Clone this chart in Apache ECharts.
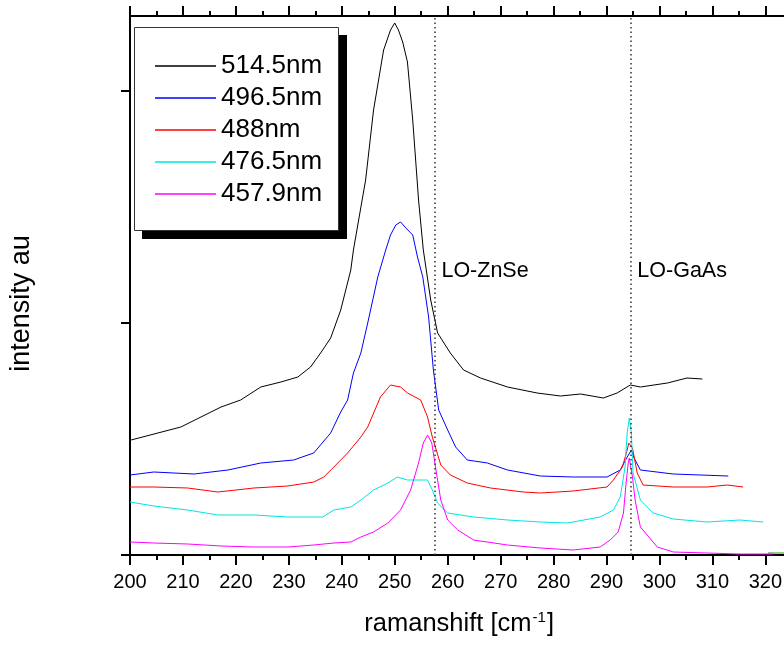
<!DOCTYPE html>
<html>
<head>
<meta charset="utf-8">
<script src="https://cdn.jsdelivr.net/npm/echarts@6/dist/echarts.min.js"></script>
<style>
html, body { margin: 0; padding: 0; overflow: hidden; background: #fff; }
#raman { width: 830px; height: 645px; }
</style>
</head>
<body>
<div id="raman"></div>
<script>
/* 拉曼光谱 - 读图数据 (ramanshift cm-1, intensity au) */
var shift514 = [200.2, 209.6, 217.2, 220.9, 224.7, 228.5, 231.7, 234.1, 236.0, 237.9, 239.8, 241.7, 242.2, 244.5, 246.0, 247.9, 249.2, 250.0, 250.7, 251.5, 252.4, 253.4, 254.5, 255.4, 256.8, 258.1, 260.5, 263.0, 266.2, 271.3, 276.9, 281.3, 285.1, 289.4, 292.0, 294.5, 296.4, 301.5, 305.2, 308.1];
var int514 = [115, 128, 148, 155, 168, 173, 178, 188, 202, 217, 245, 285, 305, 375, 445, 505, 525, 532, 525, 513, 493, 435, 355, 305, 255, 222, 202, 185, 177, 168, 162, 159, 161, 157, 162, 170, 168, 172, 177, 176];

var shift496 = [200.0, 204.5, 212.1, 218.5, 224.7, 230.9, 234.7, 237.9, 239.8, 241.1, 242.2, 243.6, 244.9, 246.8, 248.3, 249.2, 250.2, 251.1, 252.1, 253.4, 254.3, 255.3, 256.4, 257.3, 258.3, 260.0, 261.5, 263.7, 267.5, 271.3, 277.5, 283.7, 290.1, 292.6, 293.9, 294.7, 295.2, 296.4, 302.6, 313.0];
var int496 = [80, 83, 81, 85, 92, 95, 102, 122, 143, 155, 182, 202, 232, 278, 305, 320, 330, 333, 327, 320, 298, 278, 238, 185, 145, 125, 108, 95, 92, 85, 79, 78, 78, 85, 98, 105, 97, 85, 81, 79];

var shift488 = [200.0, 204.5, 210.9, 216.6, 223.4, 229.8, 234.7, 236.6, 238.5, 241.1, 243.6, 244.9, 247.3, 249.2, 251.1, 252.4, 254.9, 256.2, 257.1, 258.7, 260.5, 263.7, 268.1, 274.3, 277.5, 283.7, 290.1, 291.3, 293.0, 293.9, 294.2, 294.9, 295.8, 296.9, 302.6, 309.0, 312.8, 315.8];
var int488 = [68, 68, 67, 63, 67, 69, 73, 78, 88, 102, 118, 128, 158, 170, 168, 162, 155, 138, 118, 90, 80, 72, 67, 63, 62, 64, 68, 75, 88, 105, 112, 107, 82, 70, 68, 68, 70, 68];

var shift476 = [200.0, 204.5, 210.9, 216.6, 223.4, 229.8, 233.6, 236.4, 238.5, 241.7, 243.6, 246.0, 248.7, 250.5, 252.4, 256.2, 257.1, 258.1, 260.0, 264.9, 271.3, 277.5, 282.6, 288.8, 291.3, 292.6, 293.5, 293.9, 294.3, 294.7, 295.0, 296.4, 298.8, 302.6, 309.0, 315.2, 319.6];
var int476 = [53, 49, 45, 40, 40, 38, 38, 38, 45, 48, 55, 65, 72, 78, 75, 75, 65, 52, 42, 38, 35, 33, 32, 38, 45, 58, 88, 122, 137, 122, 82, 55, 42, 36, 33, 35, 33];

var shift457 = [200.0, 204.5, 210.9, 217.2, 223.4, 229.8, 234.7, 238.5, 241.7, 243.6, 246.0, 248.7, 251.1, 253.0, 254.5, 255.4, 256.2, 257.0, 257.7, 258.7, 260.0, 261.9, 264.9, 271.3, 277.5, 283.7, 288.8, 290.7, 292.2, 293.2, 293.7, 294.1, 294.3, 294.9, 295.4, 296.4, 299.6, 302.6, 309.0, 315.2, 321.5];
var int457 = [13, 12, 11, 9, 8, 8, 10, 12, 13, 18, 23, 32, 45, 65, 92, 112, 120, 112, 88, 55, 35, 25, 15, 10, 7, 5, 8, 15, 23, 42, 72, 92, 97, 78, 55, 28, 8, 3, 2, 1, 1];

/* 右下角的绿色残线 */
var shiftExtra = [320.5, 322.0, 324.0, 326.0];
var intExtra = [2, 2, 2, 2];

var seriesNames = ['514.5nm', '496.5nm', '488nm', '476.5nm', '457.9nm'];
var seriesColors = ['#000000', '#0000ff', '#ff0000', '#00e5e5', '#ff00ff'];
var loLines = [257.5, 294.5];
var loNames = ['LO-ZnSe', 'LO-GaAs'];
var xTicks = [200, 330, 10];
var yTicks = [0, 232, 464];

var FONT = 'Liberation Sans, Arial, sans-serif';

function pairs(xs, ys) {
	var out = [];
	for (var i = 0; i < xs.length; i++) {
		out.push([xs[i], ys[i]]);
	}
	return out;
}

var allData = [
	pairs(shift514, int514),
	pairs(shift496, int496),
	pairs(shift488, int488),
	pairs(shift476, int476),
	pairs(shift457, int457)
];

var series = [];
for (var k = 0; k < seriesNames.length; k++) {
	series.push({
		name : seriesNames[k],
		type : 'line',
		symbol : 'none',
		animation : false,
		data : allData[k],
		lineStyle : {
			color : seriesColors[k],
			width : 1
		},
		itemStyle : {
			color : seriesColors[k]
		}
	});
}
series.push({
	name : 'extra',
	type : 'line',
	symbol : 'none',
	animation : false,
	data : pairs(shiftExtra, intExtra),
	lineStyle : {
		color : '#2e8b2e',
		width : 1
	}
});
/* LO 参考线 */
series[0].markLine = {
	silent : true,
	symbol : 'none',
	animation : false,
	label : {
		show : false
	},
	lineStyle : {
		type : [ 1.5, 3 ],
		color : '#333333',
		width : 1.5
	},
	data : loLines.map(function(v) {
		return { xAxis : v };
	})
};

var tickStyle = {
	color : '#000000',
	width : 2
};

var optionRaman = {
	backgroundColor : '#ffffff',
	animation : false,
	grid : {
		left : 129,
		top : 16,
		width : 689.3,
		bottom : 90
	},
	/* 图例外框和阴影 */
	graphic : [ {
		type : 'rect',
		z : 90,
		shape : { x : 142, y : 35, width : 205, height : 204 },
		style : { fill : '#000000' }
	}, {
		type : 'rect',
		z : 91,
		shape : { x : 134.5, y : 27.5, width : 204, height : 203 },
		style : { fill : '#ffffff', stroke : '#333333', lineWidth : 1 }
	} ],
	legend : {
		data : seriesNames,
		orient : 'vertical',
		left : 134,
		top : 30,
		z : 100,
		icon : 'rect',
		itemWidth : 61,
		itemHeight : 1.6,
		itemGap : 6,
		padding : [ 23, 18, 25, 21 ],
		selectedMode : false,
		textStyle : {
			color : '#000000',
			fontFamily : FONT,
			fontSize : 26,
			lineHeight : 26
		}
	},
	xAxis : [ {
		type : 'value',
		position : 'bottom',
		min : xTicks[0],
		max : xTicks[1],
		interval : xTicks[2],
		name : '{t|ramanshift [cm}{s|-1}{t|]}',
		nameLocation : 'middle',
		nameGap : 55,
		nameTextStyle : {
			padding : [ 0, 30, 0, 0 ],
			rich : {
				t : {
					color : '#000000',
					fontFamily : FONT,
					fontSize : 25.5,
					lineHeight : 28
				},
				s : {
					color : '#000000',
					fontFamily : FONT,
					fontSize : 15,
					lineHeight : 28,
					verticalAlign : 'top',
					padding : [ 0, 1, 10, 1 ]
				}
			}
		},
		axisLine : {
			lineStyle : tickStyle
		},
		axisTick : {
			inside : false,
			length : 10,
			lineStyle : tickStyle
		},
		minorTick : {
			show : true,
			splitNumber : 2,
			length : 5,
			lineStyle : tickStyle
		},
		axisLabel : {
			margin : 17,
			color : '#000000',
			fontFamily : FONT,
			fontSize : 20,
			formatter : function(v) {
				return v <= 320 ? String(v) : '';
			}
		},
		splitLine : {
			show : false
		}
	}, {
		type : 'value',
		position : 'top',
		min : xTicks[0],
		max : xTicks[1],
		interval : xTicks[2],
		axisLine : {
			lineStyle : tickStyle
		},
		axisTick : {
			inside : false,
			length : 10,
			lineStyle : tickStyle
		},
		minorTick : {
			show : true,
			splitNumber : 2,
			length : 5,
			lineStyle : tickStyle
		},
		axisLabel : {
			show : false
		},
		splitLine : {
			show : false
		}
	} ],
	yAxis : {
		type : 'value',
		min : 0,
		max : 539,
		interval : 232,
		name : 'intensity au',
		nameLocation : 'middle',
		nameGap : 95,
		nameTextStyle : {
			color : '#000000',
			fontFamily : FONT,
			fontSize : 27,
			padding : [ 0, 36, 0, 0 ]
		},
		axisLine : {
			show : true,
			lineStyle : tickStyle
		},
		axisTick : {
			show : true,
			inside : false,
			length : 9,
			customValues : yTicks,
			lineStyle : tickStyle
		},
		axisLabel : {
			show : false
		},
		splitLine : {
			show : false
		}
	},
	series : series
};

var myChartRaman;
function initMyChartRaman() {
	myChartRaman = echarts.init(document.getElementById('raman'), null, { renderer : 'canvas' });
	myChartRaman.setOption(optionRaman, true);
	/* LO 标注文字 */
	var texts = [];
	for (var i = 0; i < loLines.length; i++) {
		var p = myChartRaman.convertToPixel({ xAxisIndex : 0, yAxisIndex : 0 }, [ loLines[i], 0 ]);
		texts.push({
			type : 'text',
			x : p[0] + 7,
			y : 271,
			style : {
				text : loNames[i],
				fill : '#000000',
				font : '21.5px "Liberation Sans", Arial, sans-serif',
				verticalAlign : 'middle'
			}
		});
	}
	myChartRaman.setOption({ graphic : optionRaman.graphic.concat(texts) });
}
initMyChartRaman();
</script>
</body>
</html>
